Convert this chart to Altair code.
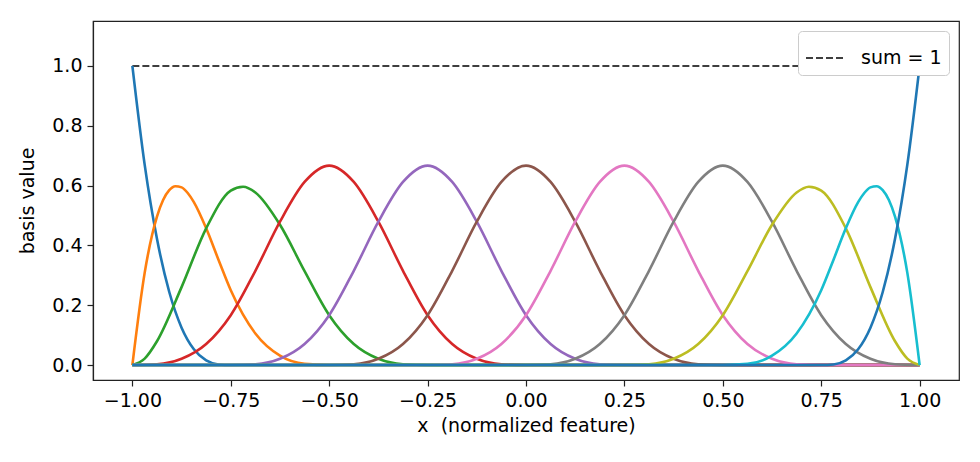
import altair as alt
import pandas as pd

# cubic B-spline basis on [-1, 1]
bump = [0, 0.0026, 0.0208, 0.0703, 0.1667, 0.3151, 0.4792, 0.6120, 0.6667,
        0.6120, 0.4792, 0.3151, 0.1667, 0.0703, 0.0208, 0.0026, 0]

x_b0 = [-1, -0.96875, -0.9375, -0.90625, -0.875, -0.84375, -0.8125, -0.78125, -0.75, 1]
y_b0 = [1, 0.6699, 0.4219, 0.2441, 0.125, 0.0527, 0.0156, 0.002, 0, 0]

x_b1 = [-1, -0.96875, -0.9375, -0.921875, -0.90625, -0.890625, -0.875, -0.859375,
        -0.84375, -0.8125, -0.78125, -0.75, -0.6875, -0.625, -0.5625, -0.5, 1]
y_b1 = [0, 0.3081, 0.4961, 0.5515, 0.5845, 0.5977, 0.5938, 0.5751,
        0.5444, 0.4570, 0.3520, 0.25, 0.1055, 0.0313, 0.0039, 0, 0]

x_b2 = [-1, -0.96875, -0.9375, -0.875, -0.8125, -0.75, -0.71875, -0.6875, -0.625,
        -0.5625, -0.5, -0.4375, -0.375, -0.3125, -0.25, 1]
y_b2 = [0, 0.0216, 0.0794, 0.2604, 0.4570, 0.5833, 0.5962, 0.5768, 0.4688,
        0.3138, 0.1667, 0.0703, 0.0208, 0.0026, 0, 0]

x_b3 = [-1, -0.9375, -0.875, -0.8125, -0.75, -0.6875, -0.625, -0.5625, -0.5,
        -0.4375, -0.375, -0.3125, -0.25, -0.1875, -0.125, -0.0625, 0, 1]
y_b3 = bump + [0]

x_b4 = [-1, -0.75, -0.6875, -0.625, -0.5625, -0.5, -0.4375, -0.375, -0.3125, -0.25,
        -0.1875, -0.125, -0.0625, 0, 0.0625, 0.125, 0.1875, 0.25, 1]
y_b4 = [0] + bump + [0]

x_b5 = [-1, -0.5, -0.4375, -0.375, -0.3125, -0.25, -0.1875, -0.125, -0.0625, 0,
        0.0625, 0.125, 0.1875, 0.25, 0.3125, 0.375, 0.4375, 0.5, 1]
y_b5 = [0] + bump + [0]

x_b6 = [-1, -0.25, -0.1875, -0.125, -0.0625, 0, 0.0625, 0.125, 0.1875, 0.25,
        0.3125, 0.375, 0.4375, 0.5, 0.5625, 0.625, 0.6875, 0.75, 1]
y_b6 = [0] + bump + [0]

x_b7 = [-1, 0, 0.0625, 0.125, 0.1875, 0.25, 0.3125, 0.375, 0.4375, 0.5,
        0.5625, 0.625, 0.6875, 0.75, 0.8125, 0.875, 0.9375, 1]
y_b7 = [0] + bump

x_b8 = [-1, 0.25, 0.3125, 0.375, 0.4375, 0.5, 0.5625, 0.625, 0.6875, 0.71875,
        0.75, 0.8125, 0.875, 0.9375, 0.96875, 1]
y_b8 = [0, 0, 0.0026, 0.0208, 0.0703, 0.1667, 0.3138, 0.4688, 0.5768, 0.5962,
        0.5833, 0.4570, 0.2604, 0.0794, 0.0216, 0]

x_b9 = [-1, 0.5, 0.5625, 0.625, 0.6875, 0.75, 0.78125, 0.8125, 0.84375, 0.859375,
        0.875, 0.890625, 0.90625, 0.921875, 0.9375, 0.96875, 1]
y_b9 = [0, 0, 0.0039, 0.0313, 0.1055, 0.25, 0.3520, 0.4570, 0.5444, 0.5751,
        0.5938, 0.5977, 0.5845, 0.5515, 0.4961, 0.3081, 0]

x_b10 = [-1, 0.75, 0.78125, 0.8125, 0.84375, 0.875, 0.90625, 0.9375, 0.96875, 1]
y_b10 = [0, 0, 0.002, 0.0156, 0.0527, 0.125, 0.2441, 0.4219, 0.6699, 1]

curves = [(x_b0, y_b0), (x_b1, y_b1), (x_b2, y_b2), (x_b3, y_b3), (x_b4, y_b4),
          (x_b5, y_b5), (x_b6, y_b6), (x_b7, y_b7), (x_b8, y_b8), (x_b9, y_b9),
          (x_b10, y_b10)]
colors = ["#1f77b4", "#ff7f0e", "#2ca02c", "#d62728", "#9467bd", "#8c564b",
          "#e377c2", "#7f7f7f", "#bcbd22", "#17becf", "#1f77b4"]
names = ["b%02d" % i for i in range(len(curves))]

sum_x = [-1, 1]
sum_y = [1, 1]
sum_label = "sum = 1"

x_ticks = [-1, -0.75, -0.5, -0.25, 0, 0.25, 0.5, 0.75, 1]
y_ticks = [0, 0.2, 0.4, 0.6, 0.8, 1.0]

rows = []
for name, (xs, ys) in zip(names, curves):
    for xv, yv in zip(xs, ys):
        rows.append({"basis": name, "x": xv, "y": yv})
df = pd.DataFrame(rows)
df_sum = pd.DataFrame({"x": sum_x, "y": sum_y, "label": sum_label})

x_enc = alt.X("x:Q", scale=alt.Scale(domain=[-1.1, 1.1], nice=False, zero=False),
              axis=alt.Axis(values=x_ticks, format=".2f", title="x\u00a0 (normalized feature)"))
y_enc = alt.Y("y:Q", scale=alt.Scale(domain=[-0.05, 1.15], nice=False),
              axis=alt.Axis(values=y_ticks, format=".1f", title="basis value", titlePadding=14))

lines = alt.Chart(df).mark_line(interpolate="monotone", strokeWidth=2.6).encode(
    x=x_enc,
    y=y_enc,
    color=alt.Color("basis:N", scale=alt.Scale(domain=names, range=colors), legend=None),
)

sum_line = alt.Chart(df_sum).mark_line(strokeDash=[7, 3], strokeWidth=1.5).encode(
    x="x:Q",
    y="y:Q",
    color=alt.Color("label:N", scale=alt.Scale(domain=[sum_label], range=["black"]),
                    legend=alt.Legend(title=None)),
)

chart = alt.layer(sum_line, lines).resolve_scale(color="independent").properties(
    width=866,
    height=359,
    padding={"left": 85, "top": 13, "right": 13, "bottom": 74},
    autosize=alt.AutoSizeParams(type="none"),
).configure_view(
    stroke="#222222",
    strokeWidth=1.2
).configure_axis(
    grid=False,
    labelFont="DejaVu Sans",
    titleFont="DejaVu Sans",
    labelFontSize=19,
    titleFontSize=19,
    titleFontWeight="normal",
    labelColor="black",
    titleColor="black",
    domainColor="#222222",
    domainWidth=1.2,
    tickColor="#222222",
    tickWidth=1.2,
    tickSize=6,
    labelPadding=5,
    titlePadding=6
).configure_legend(
    orient="top-right",
    offset=10,
    strokeColor="#cccccc",
    fillColor="white",
    padding=7,
    cornerRadius=4,
    labelFont="DejaVu Sans",
    labelFontSize=19,
    labelColor="black",
    labelOffset=16,
    symbolType="stroke",
    symbolSize=1444,
    symbolStrokeWidth=1.5,
    symbolStrokeColor="black",
    symbolDash=[7, 3]
)

chart.save("out.html", embed_options={"renderer": "svg", "actions": False})
